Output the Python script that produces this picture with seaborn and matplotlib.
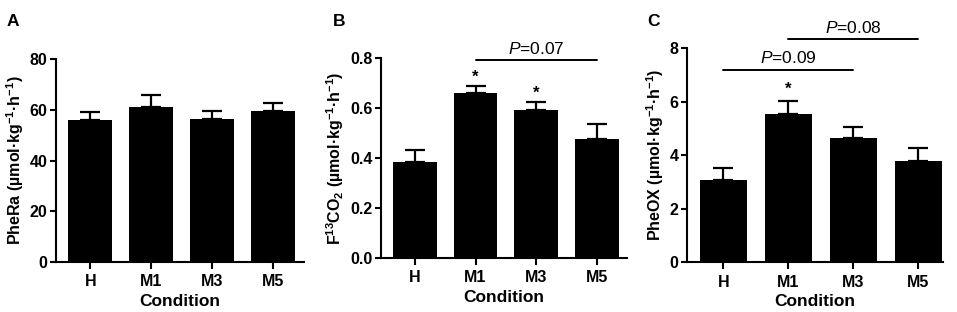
import matplotlib
matplotlib.use("Agg")
import matplotlib.pyplot as plt
import seaborn as sns
import pandas as pd
import numpy as np

# ---- data ----
conditions = ["H", "M1", "M3", "M5"]
phera_mean = [56.0, 61.0, 56.6, 59.5]
phera_sem = [3.2, 4.9, 3.0, 3.2]
f13co2_mean = [0.386, 0.660, 0.593, 0.476]
f13co2_sem = [0.047, 0.029, 0.031, 0.061]
pheox_mean = [3.08, 5.53, 4.66, 3.80]
pheox_sem = [0.46, 0.49, 0.41, 0.46]

sns.set_theme(style="ticks")
plt.rcParams["font.family"] = ["Liberation Sans", "DejaVu Sans"]
plt.rcParams["mathtext.fontset"] = "custom"
plt.rcParams["mathtext.rm"] = "Liberation Sans:bold"
plt.rcParams["mathtext.bf"] = "Liberation Sans:bold"
plt.rcParams["mathtext.it"] = "Liberation Sans:italic"
plt.rcParams["mathtext.default"] = "rm"
for k in ["text.color", "axes.labelcolor", "xtick.color", "ytick.color", "axes.edgecolor"]:
    plt.rcParams[k] = "black"

fig = plt.figure(figsize=(9.57, 3.12), dpi=100)
W, H = 957.0, 312.0

def axes_px(left, right, top, bottom):
    return fig.add_axes([left / W, (H - bottom) / H, (right - left) / W, (bottom - top) / H])

axA = axes_px(56, 304, 59.3, 262.0)
axB = axes_px(381, 627, 58.3, 258.0)
axC = axes_px(687, 943, 48.3, 262.3)

panels = [
    (axA, phera_mean, phera_sem, (0, 80), [0, 20, 40, 60, 80], lambda v: f"{v:g}",
     r"PheRa (µmol·kg$^{-1}$·h$^{-1}$)", (-0.56, 3.5)),
    (axB, f13co2_mean, f13co2_sem, (0, 0.8), [0.0, 0.2, 0.4, 0.6, 0.8], lambda v: f"{v:.1f}",
     r"F$^{13}$CO$_{2}$ (µmol·kg$^{-1}$·h$^{-1}$)", (-0.56, 3.5)),
    (axC, pheox_mean, pheox_sem, (0, 8), [0, 2, 4, 6, 8], lambda v: f"{v:g}",
     r"PheOX (µmol·kg$^{-1}$·h$^{-1}$)", (-0.56, 3.38)),
]

for ax, mean, sem, ylim, yticks, fmt, ylabel, xlim in panels:
    df = pd.DataFrame({"Condition": conditions, "value": mean})
    sns.barplot(data=df, x="Condition", y="value", color="black", width=0.72,
                errorbar=None, ax=ax, saturation=1)
    for p in ax.patches:
        p.set_edgecolor("black")
        p.set_linewidth(0)
    x = np.arange(len(conditions))
    ax.errorbar(x, mean, yerr=[np.zeros(len(mean)), sem], fmt="none", ecolor="black",
                elinewidth=1.6, capsize=7.5, capthick=1.6, zorder=3)
    ax.set_ylim(*ylim)
    ax.set_xlim(*xlim)
    ax.set_yticks(yticks)
    ax.set_yticklabels([fmt(v) for v in yticks])
    ax.set_xlabel("Condition", fontsize=12.5, fontweight="bold", labelpad=3)
    ax.set_ylabel(ylabel, fontsize=11.5, fontweight="bold", labelpad=3)
    ax.tick_params(axis="y", labelsize=11.5, width=1.5, length=4, direction="out", pad=2, color="black")
    ax.tick_params(axis="x", labelsize=11.5, width=1.5, length=5, direction="out", pad=4, color="black")
    for lbl in ax.get_xticklabels() + ax.get_yticklabels():
        lbl.set_fontweight("bold")
    for side in ["top", "right"]:
        ax.spines[side].set_visible(False)
    for side in ["left", "bottom"]:
        ax.spines[side].set_linewidth(1.5)
        ax.spines[side].set_color("black")
    ax.set_facecolor("white")

# panel letters
for letter, xp in [("A", 7), ("B", 333), ("C", 647)]:
    fig.text(xp / W, 1 - 21 / H, letter, fontsize=12.5, fontweight="bold", ha="left", va="center")

# annotations panel B
axB.text(1, 0.725, "*", ha="center", va="center", fontsize=12, fontweight="bold")
axB.text(2, 0.658, "*", ha="center", va="center", fontsize=12, fontweight="bold")
axB.plot([1.0, 3.0], [0.793, 0.793], color="black", lw=1.4, clip_on=False)
axB.text(2.0, 0.805, r"$\mathit{P}$=0.07", ha="center", va="bottom", fontsize=12.5, clip_on=False)

# annotations panel C
axC.text(1, 6.45, "*", ha="center", va="center", fontsize=12, fontweight="bold")
axC.plot([0.0, 2.0], [7.19, 7.19], color="black", lw=1.4, clip_on=False)
axC.text(1.0, 7.32, r"$\mathit{P}$=0.09", ha="center", va="bottom", fontsize=12.5, clip_on=False)
axC.plot([1.0, 3.0], [8.34, 8.34], color="black", lw=1.4, clip_on=False)
axC.text(2.0, 8.46, r"$\mathit{P}$=0.08", ha="center", va="bottom", fontsize=12.5, clip_on=False)

fig.savefig("out.png", dpi=100, facecolor="white")
